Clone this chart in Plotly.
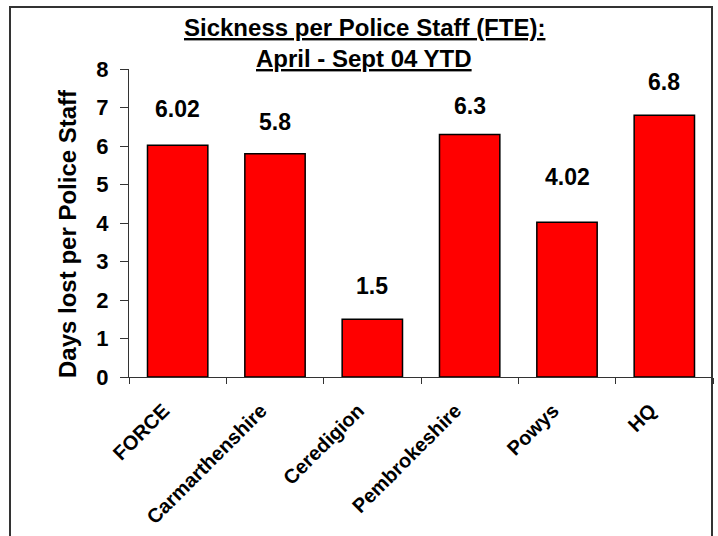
import plotly.graph_objects as go

categories = ["FORCE", "Carmarthenshire", "Ceredigion", "Pembrokeshire", "Powys", "HQ"]
values = [6.02, 5.8, 1.5, 6.3, 4.02, 6.8]
value_labels = ["6.02", "5.8", "1.5", "6.3", "4.02", "6.8"]
y_ticks = [0, 1, 2, 3, 4, 5, 6, 7, 8]
title_lines = ["Sickness per Police Staff (FTE):", "April - Sept 04 YTD"]
y_title = "Days lost per Police Staff"

label_shift = [36, 32, 33, 28, 45, 33]  # pixel offsets of data labels (style)

FONT = "Liberation Sans, Arial, sans-serif"

W, H = 718, 536
L, R, T, B = 129, 5, 69, 159
PW = W - L - R
PH = H - T - B


def px_x(px):
    return (px - L) / PW


def px_y(py):
    return (T + PH - py) / PH


fig = go.Figure()
fig.add_trace(go.Bar(
    x=categories, y=values,
    marker=dict(color="#FF0000", line=dict(color="#000000", width=1.5)),
    width=0.62,
    hoverinfo="skip",
))

for c, v, t, s in zip(categories, values, value_labels, label_shift):
    fig.add_annotation(x=c, y=v, text=t, showarrow=False,
                       yshift=s, xanchor="center", yanchor="middle",
                       font=dict(family=FONT, size=23, color="black", weight="bold"))

# title (two underlined lines)
for line, py in zip(title_lines, [28, 59]):
    fig.add_annotation(xref="paper", yref="paper", x=px_x(364), y=px_y(py),
                       text="<u>%s</u>" % line, showarrow=False,
                       xanchor="center", yanchor="middle",
                       font=dict(family=FONT, size=24, color="black", weight="bold"))

# y-axis title
fig.add_annotation(xref="paper", yref="paper", x=px_x(67), y=px_y(234),
                   text=y_title, showarrow=False, textangle=-90,
                   xanchor="center", yanchor="middle",
                   font=dict(family=FONT, size=24, color="black", weight="bold"))

fig.update_layout(
    width=W, height=H,
    margin=dict(l=L, r=R, t=T, b=B),
    paper_bgcolor="white", plot_bgcolor="white",
    showlegend=False,
    font=dict(family=FONT, color="black"),
    xaxis=dict(
        showline=True, linecolor="#333333", linewidth=1,
        ticks="outside", tickson="boundaries", ticklen=6, tickcolor="#333333",
        tickangle=-45, ticklabelshift=-14, ticklabelstandoff=13,
        tickfont=dict(family=FONT, size=20, color="black", weight="bold"),
        showgrid=False,
    ),
    yaxis=dict(
        range=[0, 8], tickvals=y_ticks,
        showline=True, linecolor="#333333", linewidth=1,
        ticks="outside", ticklen=8, tickcolor="#333333", ticklabelstandoff=7,
        tickfont=dict(family=FONT, size=22, color="black", weight="bold"),
        showgrid=False, zeroline=False,
    ),
    shapes=[dict(type="rect", xref="paper", yref="paper",
                 x0=px_x(10), x1=px_x(712),
                 y0=px_y(H + 20), y1=px_y(7),
                 line=dict(color="#333333", width=2), fillcolor="rgba(0,0,0,0)",
                 layer="below")],
)

fig.write_html("out.html", config={"displayModeBar": False, "staticPlot": True},
               post_script="document.body.style.margin='0';")
